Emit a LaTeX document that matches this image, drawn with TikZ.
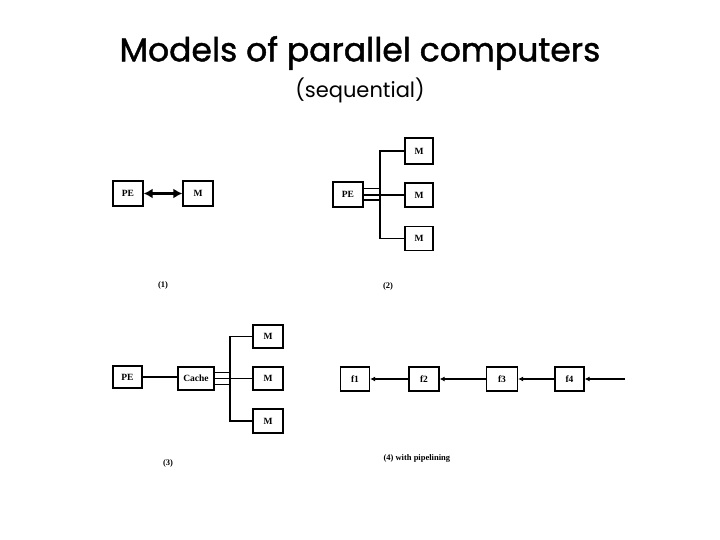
\documentclass[tikz,border=0pt]{standalone}
\usepackage{fontspec}
\setmainfont{Liberation Serif}
\newfontfamily\titlefont[FakeBold=1.3]{Poppins}
\newfontfamily\subfont{Poppins}
\usetikzlibrary{arrows.meta}
\begin{document}
\begin{tikzpicture}[x=1pt,y=-1pt,
  box/.style={draw,line width=1.3pt,inner sep=0pt,font=\bfseries\fontsize{9.5}{10}\selectfont},
  wire/.style={line width=1.3pt},
  parr/.style={line width=1.2pt,-{Latex[length=5pt,width=5pt]}},
  caption/.style={font=\bfseries\fontsize{8.5}{10}\selectfont}]
\useasboundingbox (0,0) rectangle (720,540);
\node[font=\titlefont\fontsize{33}{36}\selectfont] (title) at (360,53) {Models of parallel computers};
\node[font=\subfont\fontsize{21}{24}\selectfont] (sub) at (360,90) {(sequential)};
% (1)
\node[box,minimum width=30pt,minimum height=25pt] (pe1) at (128,193.5) {PE};
\node[box,minimum width=30pt,minimum height=25pt] (m1) at (198,193.5) {M};
\draw[line width=3pt,{Latex[length=9pt,width=10pt]}-{Latex[length=9pt,width=10pt]}] (pe1) -- (m1);
\node[caption] (c1) at (163,285) {(1)};
% (2)
\node[box,minimum width=30pt,minimum height=25pt] (pe2) at (348,194.5) {PE};
\node[box,minimum width=28pt,minimum height=26pt] (m2a) at (419,151) {M};
\node[box,minimum width=28pt,minimum height=24pt] (m2b) at (419,195) {M};
\node[box,minimum width=28pt,minimum height=24pt] (m2c) at (419,238.5) {M};
\coordinate (j2) at (380,195);
\draw[wire] ([yshift=-5.5pt]pe2.east) -| (j2 |- m2a) -- (m2a);
\draw[wire] (pe2.east |- m2b) -- (m2b);
\draw[wire] ([yshift=6pt]pe2.east) -| (j2 |- m2c) -- (m2c);
\node[caption] (c2) at (388,286) {(2)};
% (3)
\node[box,minimum width=29pt,minimum height=22pt] (pe3) at (127.5,377) {PE};
\node[box,minimum width=36pt,minimum height=23pt] (ca) at (196,378.5) {Cache};
\node[box,minimum width=30pt,minimum height=23pt] (m3a) at (268,336.5) {M};
\node[box,minimum width=30pt,minimum height=23pt] (m3b) at (268,378.5) {M};
\node[box,minimum width=30pt,minimum height=24pt] (m3c) at (268,421) {M};
\coordinate (j3) at (230,378);
\draw[wire] (pe3) -- (pe3 -| ca.west);
\draw[wire] ([yshift=-6pt]ca.east) -| (j3 |- m3a) -- (m3a);
\draw[wire] (ca.east |- m3b) -- (m3b);
\draw[wire] ([yshift=6pt]ca.east) -| (j3 |- m3c) -- (m3c);
\node[caption] (c3) at (168,463) {(3)};
% (4)
\node[box,minimum width=29pt,minimum height=24pt] (f1) at (355,379) {f1};
\node[box,minimum width=30pt,minimum height=24pt] (f2) at (424,379) {f2};
\node[box,minimum width=31pt,minimum height=24pt] (f3) at (502,379) {f3};
\node[box,minimum width=29pt,minimum height=24pt] (f4) at (569.5,379) {f4};
\coordinate (in4) at (625,379);
\draw[parr] (f2) -- (f1);
\draw[parr] (f3) -- (f2);
\draw[parr] (f4) -- (f3);
\draw[parr] (in4) -- (f4);
\node[caption,anchor=west] (c4) at (380,458) {(4) with pipelining};
\end{tikzpicture}
\end{document}
